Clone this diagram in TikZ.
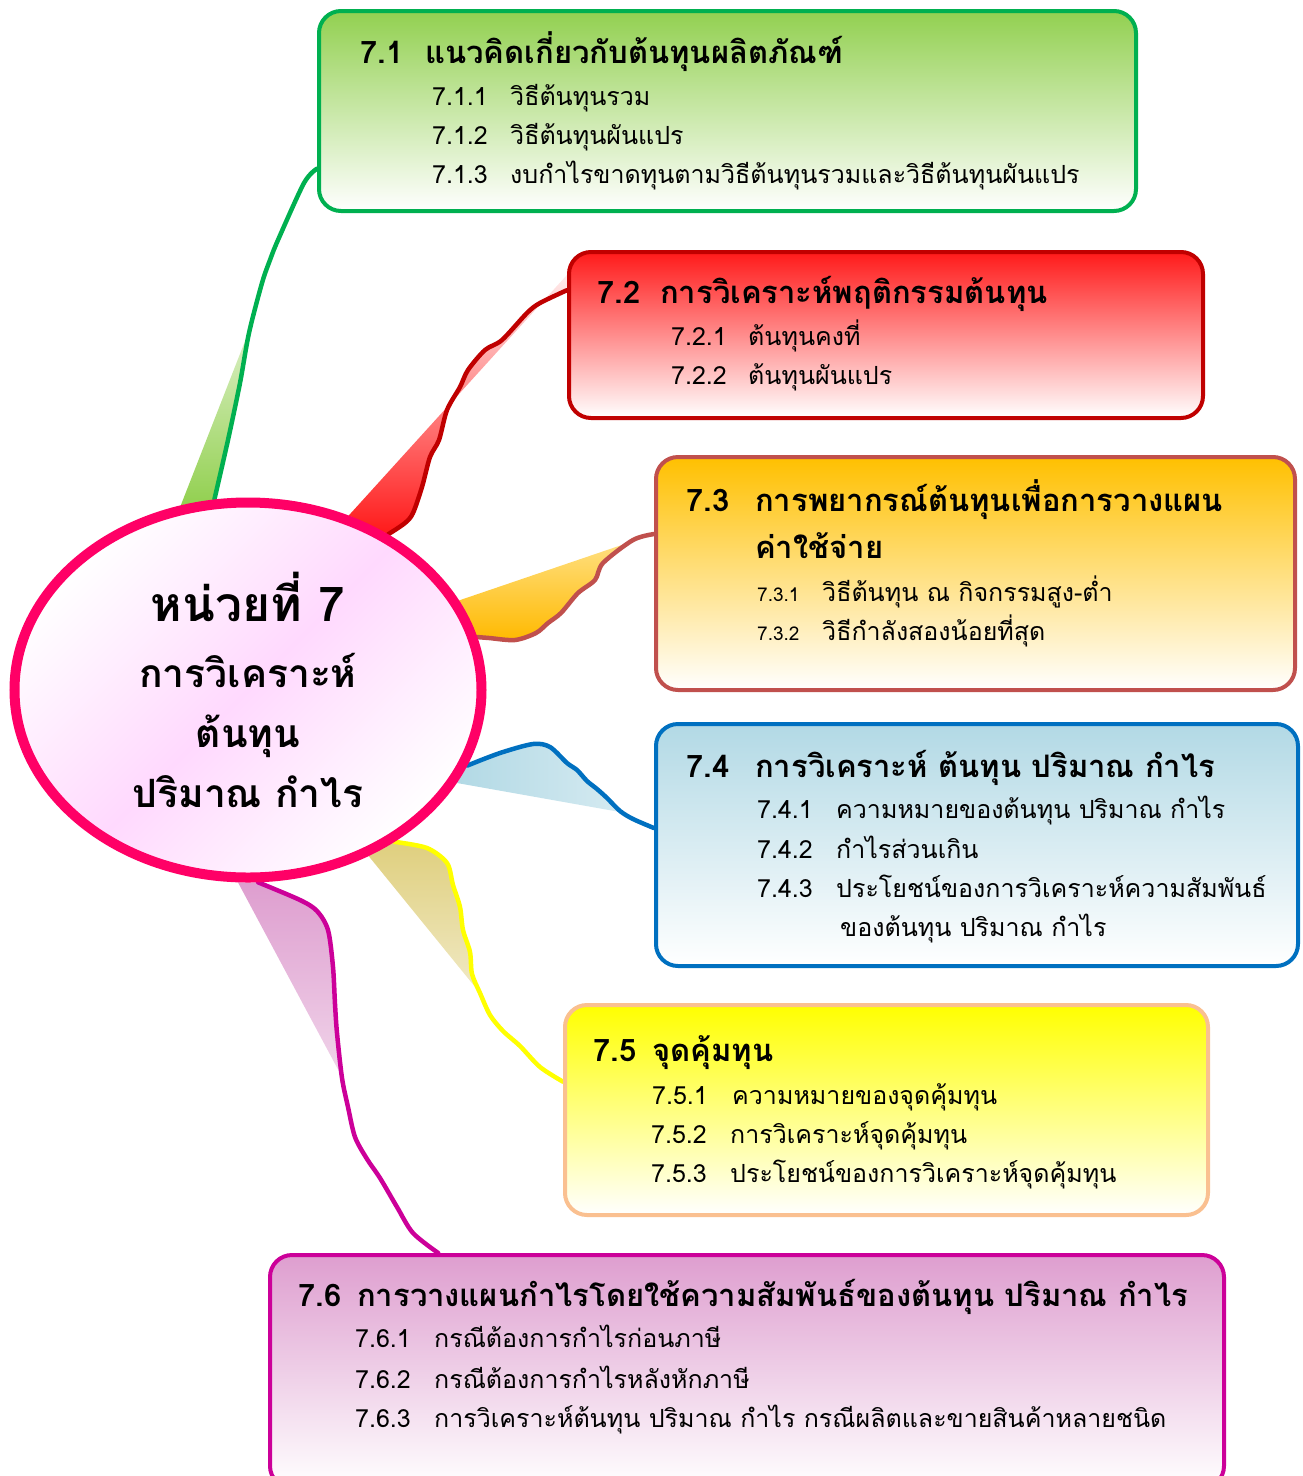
\documentclass[tikz,border=0pt]{standalone}
\usepackage{fontspec}
\setmainfont[Script=Thai]{Loma}
\usetikzlibrary{shapes.geometric,backgrounds}
\definecolor{ellline}{HTML}{FF0066}
\definecolor{ellfill}{HTML}{FFD9FE}
\definecolor{gline}{HTML}{00B050}
\definecolor{gfill}{HTML}{92D050}
\definecolor{rline}{HTML}{C00000}
\definecolor{rfill}{HTML}{FF1A1A}
\definecolor{oline}{HTML}{C0504D}
\definecolor{ofill}{HTML}{FFC000}
\definecolor{bline}{HTML}{0070C0}
\definecolor{bfill}{HTML}{B2D9E5}
\definecolor{yline}{HTML}{FFFF00}
\definecolor{ybox}{HTML}{FAC090}
\definecolor{yfill}{HTML}{DFCF7E}
\definecolor{pline}{HTML}{CC0099}
\definecolor{pfill}{HTML}{DE9ECF}
\begin{document}
\begin{tikzpicture}[x=1pt,y=-1pt,
  box/.style={rectangle, rounded corners=22pt, line width=4pt, inner sep=0pt},
  ttl/.style={anchor=base west, inner sep=0pt, font=\fontsize{31}{33}\selectfont\bfseries},
  itm/.style={anchor=base west, inner sep=0pt, font=\fontsize{25}{28}\selectfont},
  itmsm/.style={anchor=base west, inner sep=0pt, font=\fontsize{19}{22}\selectfont},
  ctrbig/.style={anchor=base, inner sep=0pt, font=\fontsize{48}{52}\selectfont\bfseries},
  ctr/.style={anchor=base, inner sep=0pt, font=\fontsize{39}{43}\selectfont\bfseries},
  conn/.style={line width=4.5pt, line join=round, line cap=round}]
\useasboundingbox (0,0) rectangle (1302,1476);

% central ellipse
\node[ellipse, draw=ellline, line width=10pt, inner sep=0pt,
      minimum width=467pt, minimum height=375pt,
      top color=white, bottom color=white, middle color=ellfill, shading angle=45] (c) at (248,690) {};
\node[ctrbig] (u1) at (248,621) {หน่วยที่ 7};
\node[ctr] (u2) at (248,687) {การวิเคราะห์};
\node[ctr] (u3) at (248,747) {ต้นทุน};
\node[ctr] (u4) at (248,807) {ปริมาณ กำไร};

% boxes
\node[box, draw=gline, top color=gfill, bottom color=white, minimum width=817pt, minimum height=200pt] (b1) at (727.5,111) {};
\node[box, draw=rline, top color=rfill, bottom color=white, minimum width=634pt, minimum height=166pt] (b2) at (886,335) {};
\node[box, draw=oline, top color=ofill, bottom color=white, minimum width=639pt, minimum height=233pt] (b3) at (975.5,573.5) {};
\node[box, draw=bline, top color=bfill, bottom color=white, minimum width=642pt, minimum height=242pt] (b4) at (977,845) {};
\node[box, draw=ybox, top color=yline, bottom color=white, minimum width=643pt, minimum height=210pt] (b5) at (886.5,1110) {};
\node[box, draw=pline, top color=pfill, bottom color=white, minimum width=954pt, minimum height=233pt] (b6) at (747,1371.5) {};

% texts 7.1
\node[ttl] (n1) at (360,63) {7.1};
\node[ttl] (h1) at (425,63) {แนวคิดเกี่ยวกับต้นทุนผลิตภัณฑ์};
\node[itm] (n11) at (432,105) {7.1.1};
\node[itm] (s11) at (510,105) {วิธีต้นทุนรวม};
\node[itm] (n12) at (432,144) {7.1.2};
\node[itm] (s12) at (510,144) {วิธีต้นทุนผันแปร};
\node[itm] (n13) at (432,183) {7.1.3};
\node[itm] (s13) at (510,183) {งบกำไรขาดทุนตามวิธีต้นทุนรวมและวิธีต้นทุนผันแปร};
% 7.2
\node[ttl] (n2) at (597,303) {7.2};
\node[ttl] (h2) at (660,303) {การวิเคราะห์พฤติกรรมต้นทุน};
\node[itm] (n21) at (671,345) {7.2.1};
\node[itm] (s21) at (748,345) {ต้นทุนคงที่};
\node[itm] (n22) at (671,384) {7.2.2};
\node[itm] (s22) at (748,384) {ต้นทุนผันแปร};
% 7.3
\node[ttl] (n3) at (686,511) {7.3};
\node[ttl] (h3) at (755,511) {การพยากรณ์ต้นทุนเพื่อการวางแผน};
\node[ttl] (h3b) at (755,558) {ค่าใช้จ่าย};
\node[itmsm] (n31) at (757,601) {7.3.1};
\node[itm] (s31) at (822,601) {วิธีต้นทุน ณ กิจกรรมสูง-ต่ำ};
\node[itmsm] (n32) at (757,640) {7.3.2};
\node[itm] (s32) at (822,640) {วิธีกำลังสองน้อยที่สุด};
% 7.4
\node[ttl] (n4) at (686,777) {7.4};
\node[ttl] (h4) at (755,777) {การวิเคราะห์ ต้นทุน ปริมาณ กำไร};
\node[itm] (n41) at (757,818) {7.4.1};
\node[itm] (s41) at (836,818) {ความหมายของต้นทุน ปริมาณ กำไร};
\node[itm] (n42) at (757,858) {7.4.2};
\node[itm] (s42) at (836,858) {กำไรส่วนเกิน};
\node[itm] (n43) at (757,897) {7.4.3};
\node[itm] (s43) at (836,897) {ประโยชน์ของการวิเคราะห์ความสัมพันธ์};
\node[itm] (s43b) at (840,936) {ของต้นทุน ปริมาณ กำไร};
% 7.5
\node[ttl] (n5) at (593,1061) {7.5};
\node[ttl] (h5) at (652,1061) {จุดคุ้มทุน};
\node[itm] (n51) at (652,1104) {7.5.1};
\node[itm] (s51) at (732,1104) {ความหมายของจุดคุ้มทุน};
\node[itm] (n52) at (651,1143) {7.5.2};
\node[itm] (s52) at (730,1143) {การวิเคราะห์จุดคุ้มทุน};
\node[itm] (n53) at (651,1182) {7.5.3};
\node[itm] (s53) at (730,1182) {ประโยชน์ของการวิเคราะห์จุดคุ้มทุน};
% 7.6
\node[ttl] (n6) at (298,1306) {7.6};
\node[ttl] (h6) at (357,1306) {การวางแผนกำไรโดยใช้ความสัมพันธ์ของต้นทุน ปริมาณ กำไร};
\node[itm] (n61) at (355,1347) {7.6.1};
\node[itm] (s61) at (434,1347) {กรณีต้องการกำไรก่อนภาษี};
\node[itm] (n62) at (355,1388) {7.6.2};
\node[itm] (s62) at (434,1388) {กรณีต้องการกำไรหลังหักภาษี};
\node[itm] (n63) at (355,1427) {7.6.3};
\node[itm] (s63) at (434,1427) {การวิเคราะห์ต้นทุน ปริมาณ กำไร กรณีผลิตและขายสินค้าหลายชนิด};

\begin{scope}[on background layer]
% green
\shade[top color=gfill!35, bottom color=gfill] (c.110) -- plot[smooth] coordinates {(247,336) (240,383) (228,440) (c.100)} -- cycle;
\draw[conn, draw=gline] plot[smooth, tension=0.5] coordinates {(c.100) (228,440) (240,383) (249,333) (262,283) (270,260) (278,240) (304,183) (b1.188)};
% red
\shade[top color=white, bottom color=rfill] (c.60) -- (b2.164) -- plot[smooth] coordinates {(b2.172) (540,303) (527,313) (502,340) (485,350) (468,370) (460,387) (447,410) (439,440) (430,457) (422,487) (413,513) (405,523) (c.48)} -- cycle;
\draw[conn, draw=rline] plot[smooth, tension=0.5] coordinates {(c.48) (405,523) (413,513) (422,487) (430,457) (439,440) (447,410) (460,387) (468,370) (485,350) (502,340) (527,313) (540,303) (b2.172)};
% orange
\shade[top color=ofill!45, bottom color=ofill!90!orange] (c.23) -- plot[smooth] coordinates {(b3.173.5) (633,540) (603,563) (595,580) (578,593) (561,613) (548,623) (536,633) (515,640) (489,638) (c.13)} -- cycle;
\draw[conn, draw=oline] plot[smooth, tension=0.5] coordinates {(c.13) (489,638) (515,640) (536,633) (548,623) (561,613) (578,593) (595,580) (603,563) (633,540) (b3.173.5)};
% blue
\shade[left color=bfill, right color=bfill!55] plot[smooth] coordinates {(c.-19) (500,753) (533,744) (550,747) (567,763) (577,770) (587,781) (597,789) (607,798) (620,812)} -- (c.-24) -- cycle;
\draw[conn, draw=bline] plot[smooth, tension=0.5] coordinates {(c.-19) (500,753) (533,744) (550,747) (567,763) (577,770) (587,781) (597,789) (607,798) (620,811) (633,819) (b4.177)};
% yellow
\shade[top color=yfill, bottom color=yfill!45] plot[smooth] coordinates {(c.-46) (427,848) (447,863) (453,885) (460,907) (463,930) (470,952) (472,974) (480,993)} -- (c.-54) -- cycle;
\draw[conn, draw=yline] plot[smooth, tension=0.5] coordinates {(c.-46) (427,848) (447,863) (453,885) (460,907) (463,930) (470,952) (472,974) (480,993) (490,1015) (503,1031) (520,1046) (540,1067) (b5.175)};
% purple
\shade[top color=pfill, bottom color=pfill!45] plot[smooth] coordinates {(c.-87) (300,900) (317,911) (328,930) (333,967) (335,1004) (337,1033) (341,1075)} -- (c.-93) -- cycle;
\draw[conn, draw=pline] plot[smooth, tension=0.5] coordinates {(c.-87) (300,900) (317,911) (328,930) (333,967) (335,1004) (337,1033) (342,1078) (348,1107) (355,1137) (367,1159) (380,1178) (397,1207) (413,1233) (b6.159)};
\end{scope}
\end{tikzpicture}
\end{document}
